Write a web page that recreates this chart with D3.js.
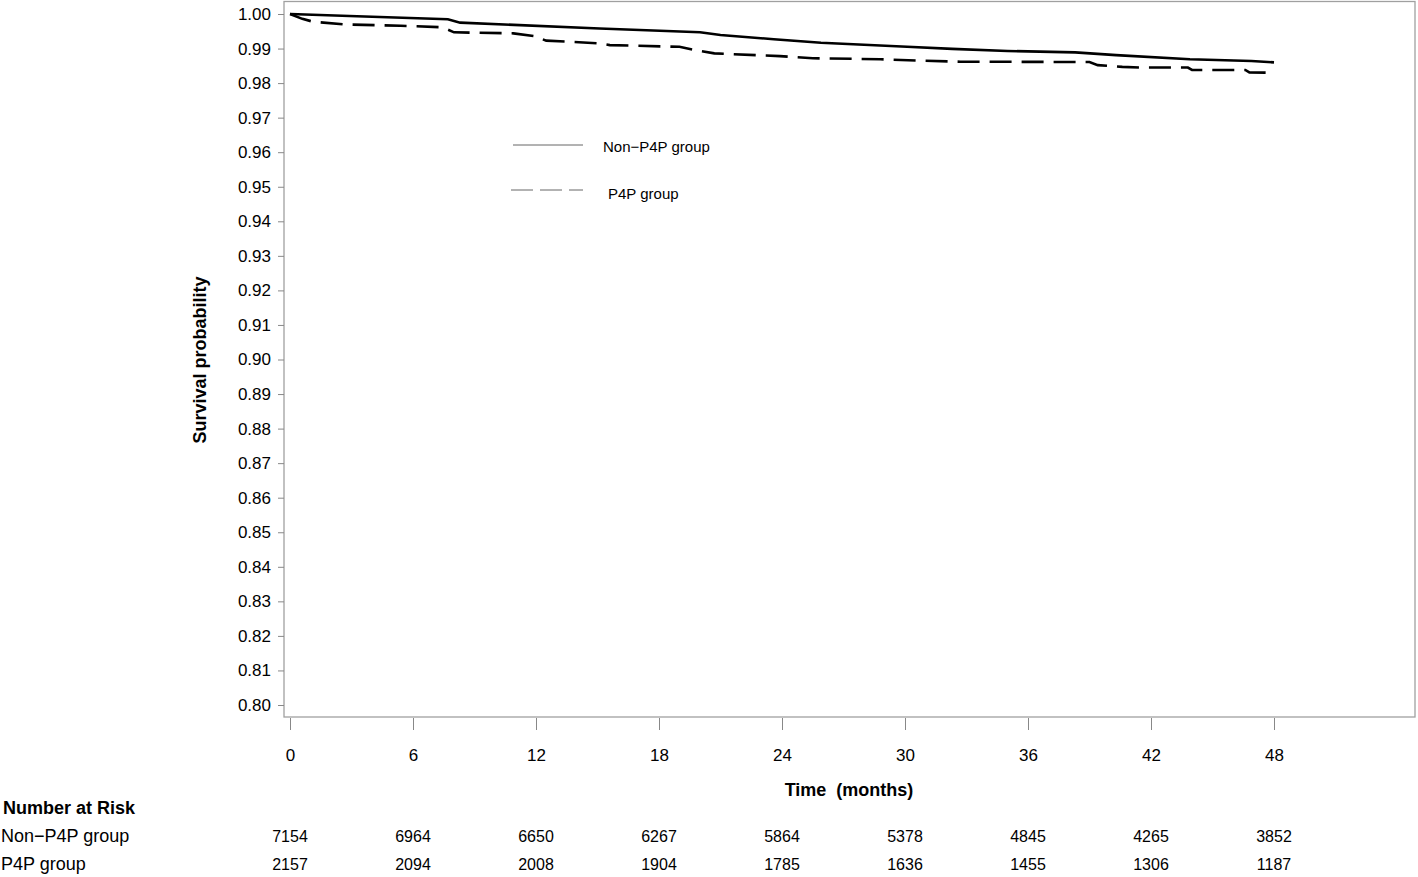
<!DOCTYPE html>
<html>
<head>
<meta charset="utf-8">
<script src="https://cdn.jsdelivr.net/npm/d3@7"></script>
<style>
  body { margin: 0; background: #fff; }
  text { font-family: "Liberation Sans", Arial, sans-serif; fill: #000; }
</style>
</head>
<body>
<svg id="chart" width="1418" height="877"></svg>
<script>
// Datos (meses, supervivencia)
const gruposNombres = ["Non\u2212P4P group", "P4P group"];
const nonP4P = [
  [0, 1.0000], [1.1, 0.9998], [2.9, 0.9994], [7.7, 0.9985], [8.3, 0.9975],
  [15.1, 0.9958], [20.0, 0.9947], [21.0, 0.9939], [23.6, 0.9927], [25.9, 0.9917],
  [30.1, 0.9905], [32.3, 0.9899], [35.0, 0.9893], [38.3, 0.9889], [40.3, 0.9881],
  [43.9, 0.9869], [46.9, 0.9864], [48.0, 0.9860]
];
const p4p = [
  [0, 1.0000], [0.6, 0.9986], [1.1, 0.9978], [2.6, 0.9970], [5.4, 0.9966],
  [7.3, 0.9962], [7.7, 0.9955], [8.0, 0.9947], [10.9, 0.9944], [11.9, 0.9936],
  [12.5, 0.9923], [15.1, 0.9915], [15.6, 0.9910], [19.0, 0.9905], [19.9, 0.9894],
  [20.7, 0.9886], [23.9, 0.9878], [25.5, 0.9872], [28.8, 0.9869], [30.7, 0.9865],
  [32.7, 0.9862], [39.0, 0.9861], [39.4, 0.9852], [40.6, 0.9847], [41.5, 0.9845],
  [43.8, 0.9845], [44.0, 0.9838], [46.6, 0.9838], [46.8, 0.9831], [47.9, 0.9830]
];
const xTicks = [0, 6, 12, 18, 24, 30, 36, 42, 48];
const yTicks = d3.range(80, 101).map(v => v / 100);
const riesgoNonP4P = [7154, 6964, 6650, 6267, 5864, 5378, 4845, 4265, 3852];
const riesgoP4P = [2157, 2094, 2008, 1904, 1785, 1636, 1455, 1306, 1187];

const svg = d3.select("#chart");
const frameL = 284, frameR = 1415, frameT = 1.5, frameB = 717;

const x = d3.scaleLinear().domain([0, 48]).range([290, 1274]);
const y = d3.scaleLinear().domain([0.80, 1.00]).range([705, 14]);

// Marco
svg.append("rect")
  .attr("x", frameL).attr("y", frameT)
  .attr("width", frameR - frameL).attr("height", frameB - frameT)
  .attr("fill", "none").attr("stroke", "#a0a0a0").attr("stroke-width", 1.3);

// Eje Y
const ejeY = svg.append("g")
  .attr("transform", `translate(${frameL},0)`)
  .call(d3.axisLeft(y).tickValues(yTicks).tickFormat(d3.format(".2f")).tickSize(6).tickPadding(7));
ejeY.select(".domain").remove();
ejeY.selectAll(".tick line").attr("stroke", "#888");
ejeY.selectAll(".tick text").style("font-size", "17px").style("font-family", "Liberation Sans, Arial, sans-serif");

// Eje X
const ejeX = svg.append("g")
  .attr("transform", `translate(0,${frameB + 1})`)
  .call(d3.axisBottom(x).tickValues(xTicks).tickSize(12).tickPadding(19));
ejeX.select(".domain").remove();
ejeX.selectAll(".tick line").attr("stroke", "#888");
ejeX.selectAll(".tick text").style("font-size", "17px").style("font-family", "Liberation Sans, Arial, sans-serif");

// Títulos de ejes
svg.append("text")
  .attr("transform", "translate(206,360) rotate(-90)")
  .attr("text-anchor", "middle")
  .style("font-size", "18px").style("font-weight", "bold")
  .text("Survival probability");

svg.append("text")
  .attr("x", 849).attr("y", 796)
  .attr("text-anchor", "middle")
  .style("font-size", "18px").style("font-weight", "bold")
  .text("Time\u00a0 (months)");

// Curvas
const linea = d3.line().x(d => x(d[0])).y(d => y(d[1]));

svg.append("path")
  .datum(nonP4P)
  .attr("d", linea)
  .attr("fill", "none").attr("stroke", "#000").attr("stroke-width", 2.6);

svg.append("path")
  .datum(p4p)
  .attr("d", linea)
  .attr("fill", "none").attr("stroke", "#000").attr("stroke-width", 2.6)
  .attr("stroke-dasharray", "22,10");

// Leyenda
svg.append("line")
  .attr("x1", 513).attr("x2", 583).attr("y1", 145).attr("y2", 145)
  .attr("stroke", "#666").attr("stroke-width", 1);
svg.append("text")
  .attr("x", 603).attr("y", 152)
  .style("font-size", "15px")
  .text(gruposNombres[0]);

svg.append("line")
  .attr("x1", 511).attr("x2", 583).attr("y1", 190).attr("y2", 190)
  .attr("stroke", "#666").attr("stroke-width", 1)
  .attr("stroke-dasharray", "22,7");
svg.append("text")
  .attr("x", 608).attr("y", 199)
  .style("font-size", "15px")
  .text(gruposNombres[1]);

// Número en riesgo
svg.append("text")
  .attr("x", 3).attr("y", 814)
  .style("font-size", "18px").style("font-weight", "bold")
  .text("Number at Risk");

const filas = [
  { nombre: gruposNombres[0], valores: riesgoNonP4P, yBase: 842 },
  { nombre: gruposNombres[1], valores: riesgoP4P, yBase: 870 }
];

filas.forEach(f => {
  svg.append("text")
    .attr("x", 1).attr("y", f.yBase)
    .style("font-size", "18px")
    .text(f.nombre);
  svg.selectAll(null)
    .data(f.valores)
    .enter()
    .append("text")
    .attr("x", (d, i) => x(xTicks[i]))
    .attr("y", f.yBase)
    .attr("text-anchor", "middle")
    .style("font-size", "16px")
    .text(d => d);
});
</script>
</body>
</html>
